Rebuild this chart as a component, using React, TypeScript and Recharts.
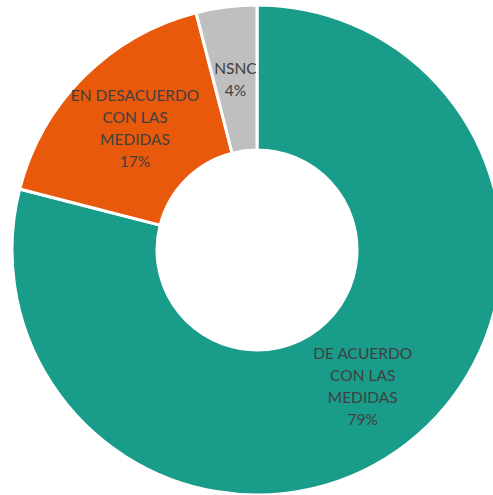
import { PieChart, Pie, Cell } from 'recharts'

const categories = ['DE ACUERDO CON LAS MEDIDAS', 'EN DESACUERDO CON LAS MEDIDAS', 'NSNC']
const values = [79, 17, 4]
const labelLines = [
    ['DE ACUERDO', 'CON LAS', 'MEDIDAS'],
    ['EN DESACUERDO', 'CON LAS', 'MEDIDAS'],
    ['NSNC'],
]

const COLORS = ['#1A9C8A', '#E8590C', '#BFBFBF']

const data = categories.map((name, i) => ({ name, value: values[i], lines: labelLines[i] }))

const RADIAN = Math.PI / 180

const renderLabel = ({ cx, cy, midAngle, innerRadius, outerRadius, index }: any) => {
    const r = (innerRadius + outerRadius) / 2
    const x = cx + r * Math.cos(-midAngle * RADIAN)
    const y = cy + r * Math.sin(-midAngle * RADIAN)
    const lines = [...data[index].lines, `${values[index]}%`]
    const lh = 22
    const top = y - ((lines.length - 1) * lh) / 2
    return (
        <text x={x} y={top} textAnchor="middle" fill="#404040" fontSize={15.5} fontFamily="Lato, 'Open Sans', sans-serif">
            {lines.map((l, i) => (
                <tspan key={i} x={x} y={top + i * lh} dominantBaseline="central">{l}</tspan>
            ))}
        </text>
    )
}

export default function App() {
    return (
        <div style={{ position: 'absolute', left: 0, top: 0, width: 493, height: 495, background: '#fff' }}>
            <PieChart width={493} height={495} margin={{ top: 0, right: 0, bottom: 0, left: 0 }}>
                <Pie
                    data={data}
                    dataKey="value"
                    cx={257}
                    cy={250}
                    innerRadius={100}
                    outerRadius={245}
                    startAngle={90}
                    endAngle={-270}
                    stroke="#fff"
                    strokeWidth={3}
                    label={renderLabel}
                    labelLine={false}
                    isAnimationActive={false}
                >
                    {data.map((d, i) => (
                        <Cell key={d.name} fill={COLORS[i]} />
                    ))}
                </Pie>
            </PieChart>
        </div>
    )
}
